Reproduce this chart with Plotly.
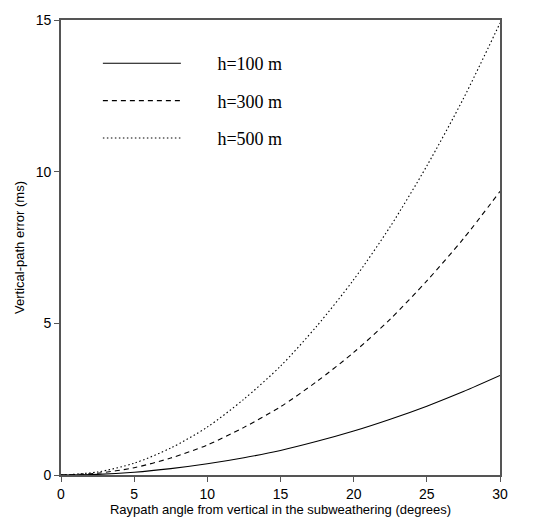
import plotly.graph_objects as go

angle_deg = [0, 2.5, 5, 7.5, 10, 12.5, 15, 17.5, 20, 22.5, 25, 27.5, 30]
err_h100 = [0, 0.02, 0.09, 0.21, 0.37, 0.57, 0.81, 1.11, 1.45, 1.84, 2.27, 2.75, 3.28]
err_h300 = [0, 0.06, 0.24, 0.56, 0.99, 1.57, 2.25, 3.09, 4.04, 5.14, 6.40, 7.79, 9.35]
err_h500 = [0, 0.10, 0.39, 0.89, 1.58, 2.50, 3.59, 4.92, 6.44, 8.19, 10.19, 12.41, 14.90]
series_names = ["h=100 m", "h=300 m", "h=500 m"]
x_ticks = [0, 5, 10, 15, 20, 25, 30]
y_ticks = [0, 5, 10, 15]

fig = go.Figure()
for name, ys, dash in zip(series_names, [err_h100, err_h300, err_h500],
                          ["solid", "5px,4px", "1.5px,2.5px"]):
    fig.add_trace(go.Scatter(
        x=angle_deg, y=ys, mode="lines", name="\u00a0" * 7 + name, legendgroup=name,
        line=dict(color="black", width=1.1, dash=dash, shape="spline", smoothing=0.8),
    ))

axis_common = dict(
    showgrid=False, zeroline=False, showline=True, linecolor="#555555", linewidth=1.6,
    mirror=True, ticks="outside", ticklen=5, tickcolor="#555555", tickwidth=1,
    tickfont=dict(family="Liberation Sans, Arial", size=14, color="black"),
)

fig.update_layout(
    width=544, height=523,
    margin=dict(l=61, r=44, t=13, b=46),
    paper_bgcolor="white", plot_bgcolor="white",
    xaxis=dict(range=[0, 30], tickvals=x_ticks,
               title=dict(text="Raypath angle from vertical in the subweathering (degrees)",
                          font=dict(family="Liberation Sans, Arial", size=13, color="black"),
                          standoff=0),
               **axis_common),
    yaxis=dict(range=[0, 15], tickvals=y_ticks,
               title=dict(text="Vertical-path error (ms)",
                          font=dict(family="Liberation Sans, Arial", size=13, color="black"),
                          standoff=8),
               **axis_common),
    showlegend=True,
    legend=dict(x=0.084, y=0.945, xanchor="left", yanchor="top",
                bgcolor="rgba(0,0,0,0)", borderwidth=0,
                font=dict(family="Liberation Serif, Times New Roman", size=18, color="black"),
                itemwidth=78, tracegroupgap=11),
)

fig.write_html("out.html", config={"displayModeBar": False},
               post_script="document.body.style.margin='0';")
